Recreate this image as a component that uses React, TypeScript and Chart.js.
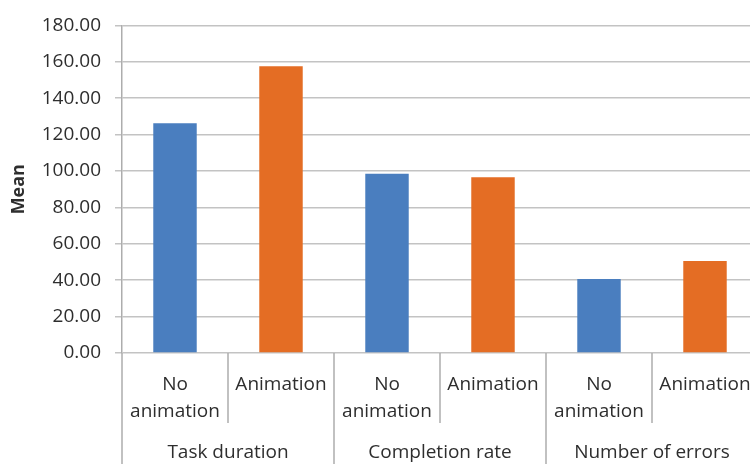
import { useEffect, useRef } from "react";
import { Chart, registerables } from "chart.js";

Chart.register(...registerables);

const categories: (string | string[])[] = [
  ["No", "animation"],
  "Animation",
  ["No", "animation"],
  "Animation",
  ["No", "animation"],
  "Animation",
];
const groups = ["Task duration", "Completion rate", "Number of errors"];
const groupSize = 2;
const values = [126.3, 157.5, 98.5, 96.6, 40.7, 50.6];
const seriesColors = ["#4A7EBF", "#E46D24"];
const yMin = 0;
const yMax = 180;
const yStep = 20;
const yTitle = "Mean";

const FONT = "'Open Sans', sans-serif";
const TEXT = "#2e2e2e";

const multiLevelPlugin = {
  id: "multiLevel",
  afterDraw(chart: any) {
    const xs = chart.scales.x;
    const ctx = chart.ctx;
    const n = categories.length;
    const half = (xs.getPixelForValue(1) - xs.getPixelForValue(0)) / 2;
    ctx.save();
    ctx.strokeStyle = "#ADADAD";
    ctx.lineWidth = 1.5;
    for (let i = 0; i <= n; i++) {
      const x = i < n ? xs.getPixelForValue(i) - half : xs.getPixelForValue(n - 1) + half;
      const isGroup = i % groupSize === 0;
      ctx.beginPath();
      ctx.moveTo(x, xs.top);
      ctx.lineTo(x, isGroup ? chart.height : xs.top + 70);
      ctx.stroke();
    }
    ctx.fillStyle = TEXT;
    ctx.font = `19px ${FONT}`;
    ctx.textAlign = "center";
    ctx.textBaseline = "middle";
    groups.forEach((g, gi) => {
      const a = xs.getPixelForValue(gi * groupSize);
      const b = xs.getPixelForValue(gi * groupSize + groupSize - 1);
      ctx.fillText(g, (a + b) / 2, xs.top + 100);
    });
    ctx.restore();
  },
};

export default function App() {
  const ref = useRef<HTMLCanvasElement>(null);
  useEffect(() => {
    if (!ref.current) return;
    const chart = new Chart(ref.current, {
      type: "bar",
      data: {
        labels: categories as any,
        datasets: [
          {
            data: values,
            backgroundColor: values.map((_, i) => seriesColors[i % seriesColors.length]),
            barPercentage: 0.41,
            categoryPercentage: 1,
          },
        ],
      },
      options: {
        responsive: false,
        animation: false,
        layout: { padding: { top: 20, right: 12, bottom: 0, left: 0 } },
        plugins: { legend: { display: false }, tooltip: { enabled: false } },
        scales: {
          x: {
            grid: { display: false },
            border: { display: false },
            ticks: {
              color: TEXT,
              font: { family: FONT, size: 19, lineHeight: 1.42 },
              padding: 10.5,
              maxRotation: 0,
              autoSkip: false,
            },
            afterFit(scale: any) {
              scale.height = 111;
            },
          },
          y: {
            min: yMin,
            max: yMax,
            ticks: {
              stepSize: yStep,
              color: TEXT,
              padding: 14,
              font: { family: FONT, size: 19 },
              callback: (v: any) => Number(v).toFixed(2),
            },
            grid: { color: "#C3C3C3", lineWidth: 1.5, tickLength: 7 },
            border: { color: "#ADADAD", width: 1.5 },
            title: {
              display: true,
              text: yTitle,
              color: TEXT,
              font: { family: FONT, size: 18, weight: "bold" },
              padding: { top: 8, bottom: 0 },
            },
            afterFit(scale: any) {
              scale.width = 122;
            },
          },
        },
      },
      plugins: [multiLevelPlugin],
    });
    return () => chart.destroy();
  }, []);
  return (
    <div
      style={{
        position: "fixed",
        left: 0,
        top: 0,
        width: 750,
        height: 464,
        overflow: "hidden",
        background: "#fff",
      }}
    >
      <canvas ref={ref} width={770} height={464} style={{ display: "block" }} />
    </div>
  );
}
